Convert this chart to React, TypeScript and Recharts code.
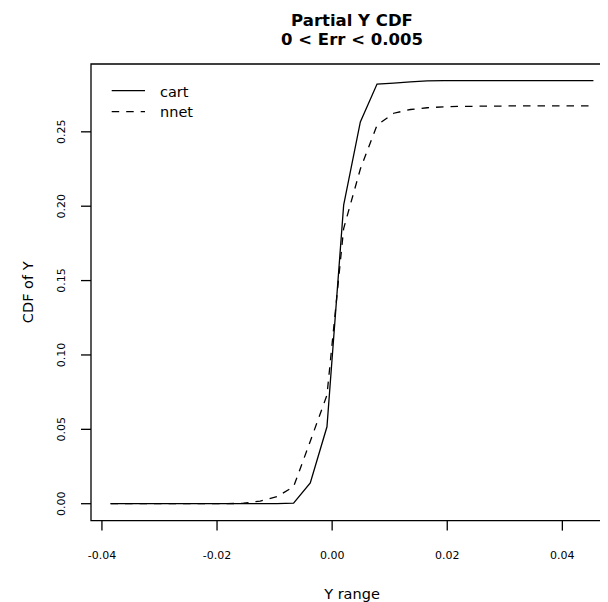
import React from 'react';
import { LineChart, Line, XAxis, YAxis, ReferenceArea } from 'recharts';

// grid of Y values where both CDFs were evaluated
const Y_RANGE = [
  -0.0385, -0.0356, -0.0327, -0.0298, -0.0269, -0.024, -0.0211, -0.0182, -0.0154, -0.0125,
  -0.0096, -0.0067, -0.0038, -0.0009, 0.002, 0.0049, 0.0078, 0.0107, 0.0136, 0.0165,
  0.0194, 0.0223, 0.0252, 0.0281, 0.031, 0.0338, 0.0367, 0.0396, 0.0425, 0.0454,
];

const CART = [
  0, 0, 0, 0, 0, 0, 0, 0, 0, 0,
  0, 0.0004, 0.014, 0.0517, 0.2007, 0.2567, 0.2821, 0.2828, 0.2836, 0.2843,
  0.2844, 0.2844, 0.2844, 0.2844, 0.2844, 0.2844, 0.2844, 0.2844, 0.2844, 0.2844,
];

const NNET = [
  0, 0, 0, 0, 0, 0, 0, 0, 0.0003, 0.0018,
  0.0047, 0.0114, 0.042, 0.073, 0.185, 0.225, 0.2545, 0.2625, 0.265, 0.2662,
  0.2668, 0.2671, 0.2672, 0.2673, 0.2674, 0.2674, 0.2675, 0.2675, 0.2675, 0.2675,
];

const X_TICKS = [-0.04, -0.02, 0, 0.02, 0.04];
const Y_TICKS = [0, 0.05, 0.1, 0.15, 0.2, 0.25];
const X_DOMAIN: [number, number] = [-0.0419, 0.0488];
const Y_DOMAIN: [number, number] = [-0.01136, 0.2956];

const FONT = '"DejaVu Sans", sans-serif';

const data = Y_RANGE.map((y, i) => ({ y, cart: CART[i], nnet: NNET[i] }));

const XTick = (props: any) => {
  const { x, y, payload } = props;
  return (
    <text x={x} y={y + 28} textAnchor="middle" fontSize={11} fontFamily={FONT} fill="#000">
      {payload.value.toFixed(2)}
    </text>
  );
};

const YTick = (props: any) => {
  const { x, y, payload } = props;
  const bx = x - 16;
  return (
    <text
      x={bx}
      y={y}
      transform={`rotate(-90, ${bx}, ${y})`}
      textAnchor="middle"
      fontSize={11}
      fontFamily={FONT}
      fill="#000"
    >
      {payload.value.toFixed(2)}
    </text>
  );
};

export default function App() {
  return (
    <div style={{ width: 600, height: 594, overflow: 'hidden', fontFamily: FONT }}>
      <LineChart
        width={620}
        height={594}
        data={data}
        margin={{ top: 56, right: 15, bottom: 0, left: 0 }}
      >
        <XAxis
          dataKey="y"
          type="number"
          domain={X_DOMAIN}
          ticks={X_TICKS}
          allowDataOverflow
          axisLine={false}
          tickSize={10}
          tickMargin={0}
          tickLine={{ stroke: '#000', strokeWidth: 1.3 }}
          tick={<XTick />}
          height={81.4}
        />
        <YAxis
          type="number"
          domain={Y_DOMAIN}
          ticks={Y_TICKS}
          allowDataOverflow
          axisLine={false}
          tickSize={10}
          tickMargin={0}
          tickLine={{ stroke: '#000', strokeWidth: 1.3 }}
          tick={<YTick />}
          width={83}
        />
        <ReferenceArea
          x1={X_DOMAIN[0]}
          x2={X_DOMAIN[1]}
          y1={Y_DOMAIN[0]}
          y2={Y_DOMAIN[1]}
          fill="none"
          stroke="#000"
          strokeWidth={1.3}
        />
        <Line
          type="linear"
          dataKey="cart"
          stroke="#000"
          strokeWidth={1.3}
          dot={false}
          isAnimationActive={false}
        />
        <Line
          type="linear"
          dataKey="nnet"
          stroke="#000"
          strokeWidth={1.3}
          strokeDasharray="7.5 7"
          dot={false}
          isAnimationActive={false}
        />
        <text x={344} y={17.6} textAnchor="middle" fontSize={16.5} fontWeight="bold" fontFamily={FONT}>
          Partial Y CDF
        </text>
        <text x={344} y={37.1} textAnchor="middle" fontSize={16.5} fontWeight="bold" fontFamily={FONT}>
          0 &lt; Err &lt; 0.005
        </text>
        <text x={344} y={591} textAnchor="middle" fontSize={14.5} fontFamily={FONT}>
          Y range
        </text>
        <text
          x={25}
          y={284.3}
          transform="rotate(-90, 25, 284.3)"
          textAnchor="middle"
          fontSize={14.5}
          fontFamily={FONT}
        >
          CDF of Y
        </text>
        <g>
          <line x1={103.7} x2={137} y1={82.7} y2={82.7} stroke="#000" strokeWidth={1.3} />
          <line x1={103.7} x2={137} y1={103.7} y2={103.7} stroke="#000" strokeWidth={1.3} strokeDasharray="7.5 7" />
          <text x={152} y={88.5} fontSize={14.5} fontFamily={FONT}>cart</text>
          <text x={152} y={109.3} fontSize={14.5} fontFamily={FONT}>nnet</text>
        </g>
      </LineChart>
    </div>
  );
}
